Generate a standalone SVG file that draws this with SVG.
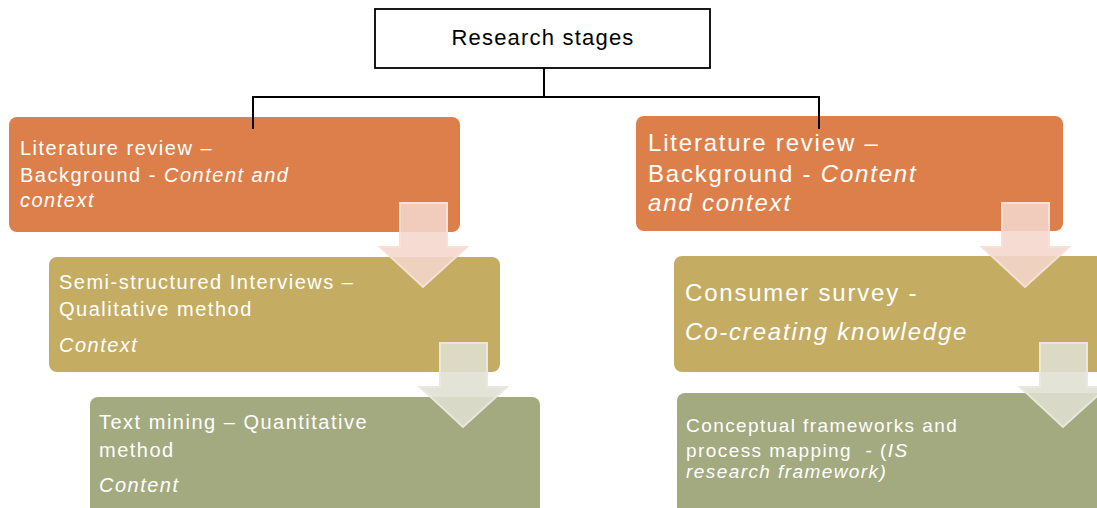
<svg xmlns="http://www.w3.org/2000/svg" width="1097" height="508" viewBox="0 0 1097 508">
  <style>
    .t { font-family: "Liberation Sans", Arial, sans-serif; fill: #ffffff; letter-spacing: 0.075em; }
    .i { font-style: italic; }
    .orange { fill: #DD7F4A; }
    .tan { fill: #C4AD63; }
    .green { fill: #A3AA7F; }
    .arr-pink { fill: #F4D6CB; fill-opacity: 0.88; stroke: #F6E0D8; stroke-width: 2; }
    .arr-grey { fill: #DFDFD1; fill-opacity: 0.88; stroke: #E8E8DE; stroke-width: 2; }
    .wire { fill: none; stroke: #000000; stroke-width: 2; }
  </style>
  <defs>
    <!-- block arrow pointing down, origin at shaft top-left -->
    <path id="down" d="M0,0 H47 V44 H67 L23,84 L-20,44 H0 Z"/>
  </defs>
  <rect width="1097" height="508" fill="#ffffff"/>

  <g id="root">
    <rect x="375" y="9" width="335" height="59" fill="#ffffff" stroke="#000000" stroke-width="1.8"/>
    <text x="543" y="45" text-anchor="middle" font-family="Liberation Sans, Arial, sans-serif" font-size="22" letter-spacing="1.2" fill="#000000">Research stages</text>
  </g>

  <g id="left-literature">
    <rect class="orange" x="9" y="117" width="451" height="115" rx="8"/>
    <text class="t" font-size="20"><tspan x="20" y="155">Literature review –</tspan><tspan x="20" y="182">Background - <tspan class="i">Content and</tspan></tspan><tspan class="i" x="20" y="207">context</tspan></text>
  </g>

  <g id="left-interviews">
    <rect class="tan" x="49" y="257" width="451" height="115" rx="8"/>
    <text class="t" font-size="20"><tspan x="59" y="289">Semi-structured Interviews –</tspan><tspan x="59" y="316">Qualitative method</tspan><tspan class="i" x="59" y="352">Context</tspan></text>
  </g>

  <g id="left-textmining">
    <rect class="green" x="90" y="397" width="450" height="125" rx="8"/>
    <text class="t" font-size="20"><tspan x="99" y="429">Text mining – Quantitative</tspan><tspan x="99" y="457">method</tspan><tspan class="i" x="99" y="492">Content</tspan></text>
  </g>

  <g id="right-literature">
    <rect class="orange" x="636" y="116" width="427" height="115" rx="8"/>
    <text class="t" font-size="24"><tspan x="648" y="151">Literature review –</tspan><tspan x="648" y="182">Background - <tspan class="i">Content</tspan></tspan><tspan class="i" x="648" y="211">and context</tspan></text>
  </g>

  <g id="right-survey">
    <rect class="tan" x="674" y="256" width="440" height="116" rx="8"/>
    <text class="t" font-size="24"><tspan x="685" y="301">Consumer survey -</tspan><tspan class="i" x="685" y="340">Co-creating knowledge</tspan></text>
  </g>

  <g id="right-frameworks">
    <rect class="green" x="677" y="393" width="440" height="130" rx="8"/>
    <text class="t" font-size="19"><tspan x="686" y="432">Conceptual frameworks and</tspan><tspan x="686" y="457">process mapping&#160; - (<tspan class="i">IS</tspan></tspan><tspan class="i" x="686" y="478">research framework)</tspan></text>
  </g>

  <!-- tree wiring from the root box down into the two literature boxes -->
  <g id="connectors">
    <path class="wire" d="M544,68 V97"/>
    <path class="wire" d="M253,97 H820"/>
    <path class="wire" d="M253,96 V129"/>
    <path class="wire" d="M819,96 V129"/>
  </g>

  <g id="flow-arrows">
    <use href="#down" class="arr-pink" x="400" y="203"/>
    <use href="#down" class="arr-grey" x="440" y="343"/>
    <use href="#down" class="arr-pink" x="1002" y="203"/>
    <use href="#down" class="arr-grey" x="1040" y="343"/>
  </g>
</svg>
